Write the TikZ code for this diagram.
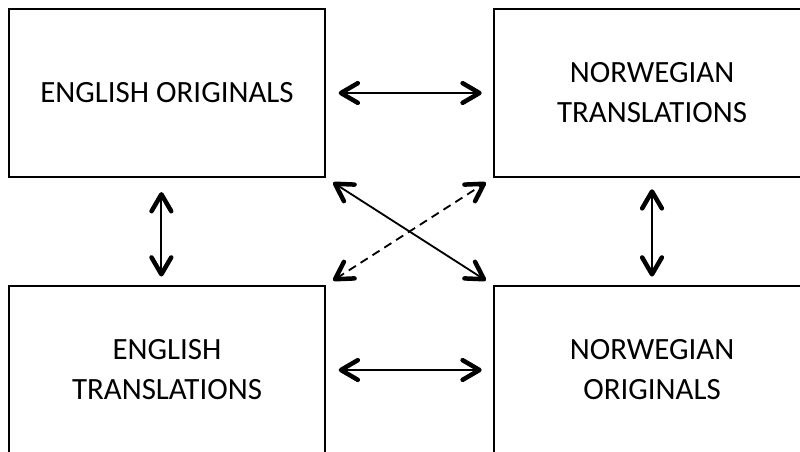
\documentclass[tikz,border=0pt]{standalone}
\usepackage{fontspec}
\setmainfont{Carlito}
\usetikzlibrary{arrows.meta}

\begin{document}
\begin{tikzpicture}[
    x=0.025cm, y=-0.025cm,
    corpus/.style={rectangle, draw, line width=1.4pt, minimum width=7.9cm, minimum height=4.2cm, align=center, font=\fontsize{22}{28.4}\selectfont},
    link/.style={line width=1.3pt, {Straight Barb[length=12pt, width=14pt, line width=3.2pt, round]}-{Straight Barb[length=12pt, width=14pt, line width=3.2pt, round]}},
]
    \useasboundingbox (0,0) rectangle (800,452);

    \node[corpus] (eo) at (167,93) {ENGLISH ORIGINALS};
    \node[corpus] (nt) at (652,93) {NORWEGIAN\\TRANSLATIONS};
    \node[corpus] (et) at (167,370) {ENGLISH\\TRANSLATIONS};
    \node[corpus] (no) at (652,370) {NORWEGIAN\\ORIGINALS};

    \draw[link, shorten <=9pt, shorten >=8pt] (eo.east) -- (nt.west);
    \draw[link, shorten <=9pt, shorten >=8pt] (et.east) -- (no.west);
    \draw[link, shorten <=10pt, shorten >=6pt] ([xshift=-4pt]eo.south) -- ([xshift=-4pt]et.north);
    \draw[link, shorten <=8pt, shorten >=6pt] (nt.south) -- (no.south |- et.north);
    \draw[link, shorten <=6pt, shorten >=6pt] (eo.south east) -- (no.north west);
    \draw[link, dash pattern=on 6pt off 4pt, shorten <=6pt, shorten >=6pt] (et.north east) -- (nt.south west);
\end{tikzpicture}
\end{document}
